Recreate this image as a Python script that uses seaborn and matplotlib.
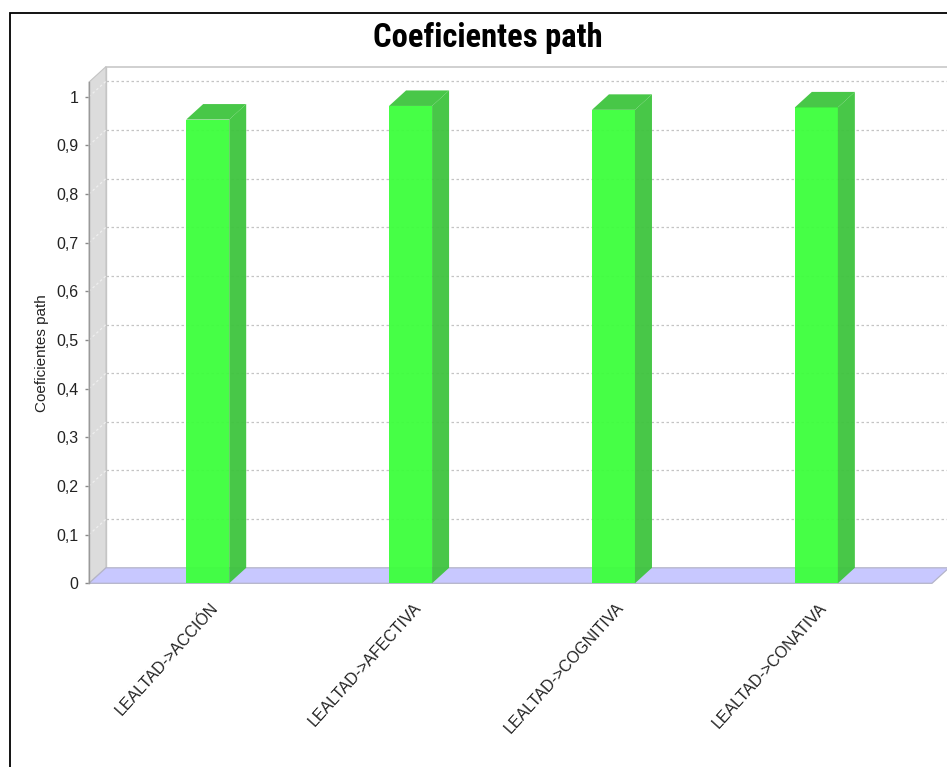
import matplotlib
matplotlib.use("Agg")
import matplotlib.pyplot as plt
from matplotlib import font_manager as fm
from matplotlib.patches import Polygon, Rectangle
from matplotlib.transforms import ScaledTranslation
from matplotlib.ticker import FixedLocator, FixedFormatter
import seaborn as sns
import pandas as pd

# Path coefficients of the loyalty construct on each dimension
categories = ["LEALTAD->ACCIÓN", "LEALTAD->AFECTIVA", "LEALTAD->COGNITIVA", "LEALTAD->CONATIVA"]
values = [0.953, 0.981, 0.973, 0.978]
tick_values = [0.0, 0.1, 0.2, 0.3, 0.4, 0.5, 0.6, 0.7, 0.8, 0.9, 1.0]
tick_labels = ["0", "0,1", "0,2", "0,3", "0,4", "0,5", "0,6", "0,7", "0,8", "0,9", "1"]
title = "Coeficientes path"
y_title = "Coeficientes path"

sns.set_style("white")
plt.rcParams["font.family"] = ["Liberation Sans", "DejaVu Sans"]


def narrow_bold_font():
    """Pick a narrow bold face for the chart title, if one is installed."""
    entries = fm.fontManager.ttflist
    is_bold = lambda e: str(e.weight) in ("700", "bold")
    for name in ("Liberation Sans Narrow", "Roboto Condensed", "Arial Narrow"):
        for e in entries:
            if e.name == name and is_bold(e) and e.style == "normal":
                return fm.FontProperties(fname=e.fname), name
    for e in entries:
        if e.name == "DejaVu Sans" and e.stretch == "condensed" and is_bold(e) and e.style == "normal":
            return fm.FontProperties(fname=e.fname), "DejaVu Sans Condensed"
    return fm.FontProperties(family="Liberation Sans", weight="bold"), "Liberation Sans"


W_PX, H_PX = 947, 767
fig = plt.figure(figsize=(W_PX / 100, H_PX / 100), dpi=100, facecolor="white")

# front plane of the plot (pixel geometry, origin top-left)
x_left, x_right = 89.0, 932.0
y_zero, y_one = 583.3, 96.7
y_max = 1.03
px_per_unit = y_zero - y_one
ax = fig.add_axes([x_left / W_PX,
                   (H_PX - y_zero) / H_PX,
                   (x_right - x_left) / W_PX,
                   y_max * px_per_unit / H_PX])
ax.patch.set_visible(False)

df = pd.DataFrame({"categoria": categories, "valor": values})
FRONT = "#3CFF3C"
SIDE = "#3EC43E"
sns.barplot(data=df, x="categoria", y="valor", color=FRONT, saturation=1,
            width=0.212, errorbar=None, ax=ax, zorder=6, linewidth=0)
bars = list(ax.patches)
for p in bars:
    p.set_alpha(0.95)

ax.set_xlim(-0.585, 3.570)
ax.set_ylim(0, y_max)
fig.canvas.draw()

# 3-D depth offset converted from pixels to data units
p0 = ax.transData.transform((0, 0))
p1 = ax.transData.transform((1, 1))
DX_PX, DY_PX = 17.0, 15.5
ddx = DX_PX / (p1[0] - p0[0])
ddy = DY_PX / (p1[1] - p0[1])
x0, x1 = ax.get_xlim()
xfar = x1 + 1.0  # wall runs past the right edge of the figure

# back wall
ax.add_patch(Polygon([(x0 + ddx, ddy), (xfar, ddy), (xfar, y_max + ddy), (x0 + ddx, y_max + ddy)],
                     closed=True, facecolor="white", edgecolor="none", zorder=0, clip_on=False))
ax.plot([x0 + ddx, xfar], [y_max + ddy, y_max + ddy], color="#C8C8C8", lw=1.2, zorder=1, clip_on=False)
ax.plot([x0 + ddx, x0 + ddx], [ddy, y_max + ddy], color="#C8C8C8", lw=1.0, zorder=1, clip_on=False)

# left wall
ax.add_patch(Polygon([(x0, 0), (x0 + ddx, ddy), (x0 + ddx, y_max + ddy), (x0, y_max)],
                     closed=True, facecolor="#DCDCDC", edgecolor="#C4C4C4", lw=0.8, zorder=2, clip_on=False))

# grid lines on the back wall, with their trace across the left wall
for v in tick_values[1:]:
    ax.plot([x0 + ddx, xfar], [v + ddy, v + ddy], color="#C4C4C4", lw=0.9,
            linestyle=(0, (2, 2)), zorder=1, clip_on=False)
    ax.plot([x0, x0 + ddx], [v, v + ddy], color="#EFEFEF", lw=0.9,
            linestyle=(0, (2, 2)), zorder=3, clip_on=False)

# floor
ax.add_patch(Polygon([(x0, 0), (x1, 0), (x1 + ddx, ddy), (x0 + ddx, ddy)],
                     closed=True, facecolor="#C8C8FF", edgecolor="#B4B4C8", lw=0.9, zorder=4, clip_on=False))

# side and top faces of each bar
for p in bars:
    xl = p.get_x()
    xr = xl + p.get_width()
    h = p.get_height()
    ax.add_patch(Polygon([(xr, 0), (xr + ddx, ddy), (xr + ddx, h + ddy), (xr, h)],
                         closed=True, facecolor=SIDE, edgecolor="none", alpha=0.95, zorder=6, clip_on=False))
    ax.add_patch(Polygon([(xl, h), (xl + ddx, h + ddy), (xr + ddx, h + ddy), (xr, h)],
                         closed=True, facecolor=SIDE, edgecolor="none", alpha=0.95, zorder=6, clip_on=False))

# axes styling
for s in ("top", "right", "bottom"):
    ax.spines[s].set_visible(False)
ax.spines["left"].set_color("#9A9A9A")
ax.spines["left"].set_linewidth(1.0)
ax.spines["left"].set_zorder(5)

ax.yaxis.set_major_locator(FixedLocator(tick_values))
ax.yaxis.set_major_formatter(FixedFormatter(tick_labels))
ax.tick_params(axis="y", which="major", left=True, length=3, width=1, color="#8A8A8A",
               pad=4.5, labelsize=11.5, labelcolor="#222222")

ax.set_xticks(range(len(categories)))
ax.set_xticklabels(categories, rotation=48, ha="right", va="top", rotation_mode="anchor",
                   fontsize=11.5, color="#222222")
ax.tick_params(axis="x", length=0, pad=12)
shift = ScaledTranslation(2.5 / 100, 0, fig.dpi_scale_trans)
for lab in ax.get_xticklabels():
    lab.set_transform(lab.get_transform() + shift)

ax.set_xlabel("")
ax.set_ylabel(y_title, fontsize=11, color="#222222")
ax.yaxis.set_label_coords((49 - x_left) / (x_right - x_left),
                          (y_zero - 353) / (y_max * px_per_unit))

# chart title
title_font, title_face = narrow_bold_font()
title_size = 23.5 if title_face != "Liberation Sans" else 21
title_font.set_size(title_size)
fig.text(487.5 / W_PX, 1 - 46.7 / H_PX, title, ha="center", va="baseline",
         fontproperties=title_font, color="black")

# chart border
fig.patches.append(Rectangle((9.5 / W_PX, -0.1), 1.2, 1.1 - 12.5 / H_PX,
                             transform=fig.transFigure, fill=False, edgecolor="black",
                             lw=1.3, zorder=10))

fig.savefig("out.png", dpi=100, facecolor="white")
